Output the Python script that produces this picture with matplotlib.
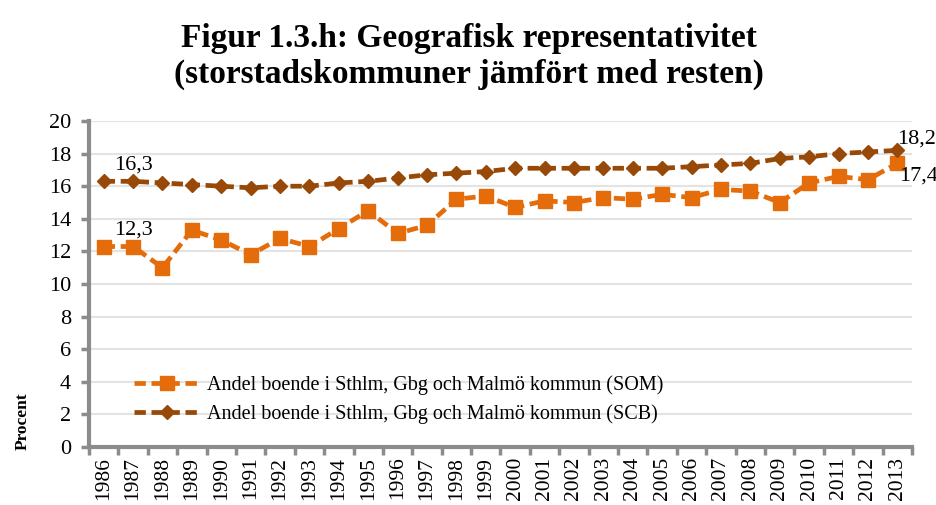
import matplotlib.pyplot as plt

years = [str(y) for y in range(1986, 2014)]
som = [12.3, 12.3, 11.0, 13.3, 12.7, 11.8, 12.8, 12.3, 13.4, 14.5, 13.1, 13.6, 15.2, 15.4,
       14.7, 15.1, 15.0, 15.3, 15.2, 15.5, 15.3, 15.8, 15.7, 15.0, 16.2, 16.6, 16.4, 17.4]
scb = [16.3, 16.3, 16.2, 16.1, 16.0, 15.9, 16.0, 16.0, 16.2, 16.3, 16.5, 16.7, 16.8, 16.9,
       17.1, 17.1, 17.1, 17.1, 17.1, 17.1, 17.2, 17.3, 17.4, 17.7, 17.8, 18.0, 18.1, 18.2]
som_label = 'Andel boende i Sthlm, Gbg och Malmö kommun (SOM)'
scb_label = 'Andel boende i Sthlm, Gbg och Malmö kommun (SCB)'

plt.rcParams['font.family'] = ['Liberation Serif', 'DejaVu Serif']

fig = plt.figure(figsize=(9.37, 5.05), dpi=100)
ax = fig.add_axes([89 / 937, 1 - 447 / 505, (912 - 89) / 937, (447 - 121) / 505])

x = list(range(len(years)))
orange = '#E46C0A'
brown = '#984807'
ax.plot(x, som, color=orange, lw=3.4, ls=(0, (2.4, 1.2)), marker='s', ms=10,
        label=som_label, zorder=3)
ax.plot(x, scb, color=brown, lw=3.4, ls=(0, (2.4, 1.2)), marker='D', ms=7.5,
        label=scb_label, zorder=3)

ax.set_xlim(-0.5, len(years) - 0.5)
ax.set_ylim(0, 20)
ax.set_yticks(range(0, 21, 2))
ax.set_xticks([i - 0.5 for i in range(len(years) + 1)], minor=False)
ax.set_xticklabels([])
ax.set_xticks(x, minor=True)
ax.set_xticklabels(years, minor=True, rotation=90, fontsize=15.5)
ax.tick_params(axis='x', which='minor', length=0, pad=7)
ax.tick_params(axis='x', which='major', length=6, width=2.5, color='#8c8c8c')
ax.tick_params(axis='y', length=6, width=2.5, color='#8c8c8c', labelsize=16, pad=7)
ax.grid(axis='y', color='#e3e3e3', lw=1.5)
ax.set_axisbelow(True)
for side in ['top', 'right']:
    ax.spines[side].set_visible(False)
for side in ['left', 'bottom']:
    ax.spines[side].set_color('#8c8c8c')
    ax.spines[side].set_linewidth(3)

# data labels
lab = 16
ax.annotate('16,3', (1, scb[1]), xytext=(0, 5), textcoords='offset points',
            ha='center', va='bottom', fontsize=lab)
ax.annotate('12,3', (1, som[1]), xytext=(0, 5), textcoords='offset points',
            ha='center', va='bottom', fontsize=lab)
ax.annotate('18,2', (27, scb[27]), xytext=(0, 1), textcoords='offset points',
            ha='left', va='bottom', fontsize=lab, annotation_clip=False)
ax.annotate('17,4', (27, som[27]), xytext=(1, -2), textcoords='offset points',
            ha='left', va='top', fontsize=lab, annotation_clip=False)

ax.legend(loc='upper left', bbox_to_anchor=(0.045, 0.245), frameon=False,
          fontsize=14.5, handlelength=3.3, handletextpad=0.3, labelspacing=0.45,
          borderaxespad=0)

ax.set_ylabel('Procent', fontsize=12.5, fontweight='bold')
ax.yaxis.set_label_coords(-0.071, 0.08)

fig.suptitle('Figur 1.3.h: Geografisk representativitet\n(storstadskommuner jämfört med resten)',
             x=0.5, y=0.955, fontsize=24, fontweight='bold', linespacing=1.2)

fig.savefig('out.png', dpi=100)
